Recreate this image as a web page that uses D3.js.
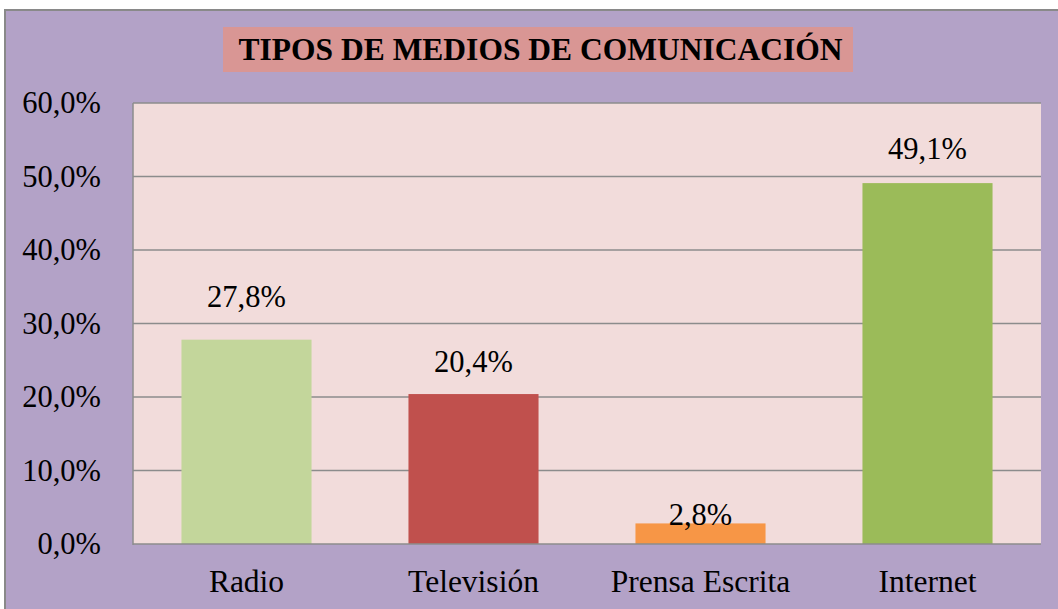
<!DOCTYPE html>
<html><head><meta charset="utf-8">
<script src="https://cdn.jsdelivr.net/npm/d3@7/dist/d3.min.js"></script>
<style>body{margin:0;background:#fff;}svg{display:block;}</style>
</head><body>
<svg id="c" width="1058" height="609" font-family="Liberation Serif"></svg>
<script>
const categories = ["Radio", "Televisión", "Prensa Escrita", "Internet"];
const values = [27.8, 20.4, 2.8, 49.1];
const valueLabels = ["27,8%", "20,4%", "2,8%", "49,1%"];
const yTicks = [0, 10, 20, 30, 40, 50, 60];
const yTickLabels = ["0,0%", "10,0%", "20,0%", "30,0%", "40,0%", "50,0%", "60,0%"];
const title = "TIPOS DE MEDIOS DE COMUNICACIÓN";

const barColors = ["#C3D69B", "#C0504D", "#F79646", "#9BBB59"];
const labelDy = [-33, -22, 2, -24.5];

const svg = d3.select("#c");
const font = "Liberation Serif";

// outer chart area
svg.append("rect").attr("x", 5).attr("y", 10).attr("width", 1070).attr("height", 620)
  .attr("fill", "#B3A2C7").attr("stroke", "#898989").attr("stroke-width", 2);

const L = 133, T = 103, R = 1041, B = 544;
svg.append("rect").attr("x", L).attr("y", T).attr("width", R - L).attr("height", B - T).attr("fill", "#F2DCDB");

const x = d3.scaleBand().domain(categories).range([L, R]).paddingInner(0.427).paddingOuter(0.2135);
const y = d3.scaleLinear().domain([0, 60]).range([B, T]);

// gridlines
svg.append("g").selectAll("line").data(yTicks.filter(d => d > 0)).join("line")
  .attr("x1", L).attr("x2", R).attr("y1", d => y(d)).attr("y2", d => y(d))
  .attr("stroke", "#8C8C8C").attr("stroke-width", 1.5);

// bars
svg.append("g").selectAll("rect").data(values).join("rect")
  .attr("x", (d, i) => x(categories[i])).attr("width", x.bandwidth())
  .attr("y", d => y(d)).attr("height", d => B - y(d))
  .attr("fill", (d, i) => barColors[i]);

// axes lines
svg.append("line").attr("x1", L).attr("x2", L).attr("y1", T).attr("y2", B + 1).attr("stroke", "#8C8C8C").attr("stroke-width", 1.5);
svg.append("line").attr("x1", L).attr("x2", R).attr("y1", B).attr("y2", B).attr("stroke", "#8C8C8C").attr("stroke-width", 1.5);

// y axis labels
const yAxis = d3.axisLeft(y).tickValues(yTicks).tickFormat((d, i) => yTickLabels[i]).tickSize(0).tickPadding(32);
const ya = svg.append("g").attr("transform", `translate(${L},0)`).call(yAxis);
ya.select(".domain").remove();
ya.attr("font-family", font).attr("font-size", 30.5);
ya.selectAll("text").attr("fill", "#000");

// x axis labels
const xAxis = d3.axisBottom(x).tickSize(0).tickPadding(25.6);
const xa = svg.append("g").attr("transform", `translate(0,${B})`).call(xAxis);
xa.select(".domain").remove();
xa.attr("font-family", font).attr("font-size", 31.5);
xa.selectAll("text").attr("fill", "#000");

// value labels
svg.append("g").attr("font-family", font).attr("font-size", 30.5)
  .selectAll("text").data(values).join("text")
  .attr("x", (d, i) => x(categories[i]) + x.bandwidth() / 2)
  .attr("y", (d, i) => y(d) + labelDy[i])
  .attr("text-anchor", "middle").attr("fill", "#000")
  .text((d, i) => valueLabels[i]);

// title
svg.append("rect").attr("x", 223).attr("y", 27).attr("width", 630).attr("height", 45).attr("fill", "#D99694");
svg.append("text").attr("x", 540.5).attr("y", 60).attr("text-anchor", "middle")
  .attr("font-family", font).attr("font-weight", "bold").attr("font-size", 31.5).attr("fill", "#000")
  .text(title);
</script>
</body></html>
